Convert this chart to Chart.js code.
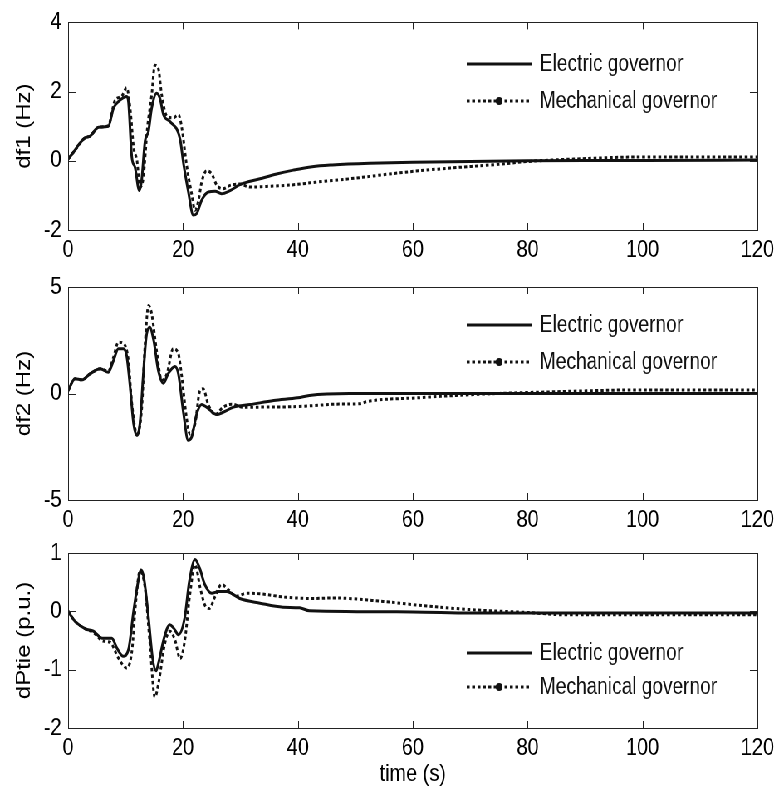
<!DOCTYPE html>
<html><head><meta charset="utf-8">
<script src="https://cdn.jsdelivr.net/npm/chart.js@4"></script>
<style>
html,body{margin:0;padding:0;background:#fff;overflow:hidden;}
#wrap{position:absolute;left:0;top:0;width:938px;height:795px;transform:scaleX(0.8305);transform-origin:0 0;}
.pane{position:absolute;left:0;width:938px;}
</style></head><body>
<div id="wrap">
<div class="pane" style="top:0;height:268px"><canvas id="c1"></canvas></div>
<div class="pane" style="top:255px;height:283px"><canvas id="c2"></canvas></div>
<div class="pane" style="top:525px;height:270px"><canvas id="c3"></canvas></div>
</div>
<script>
// ---- data (time in s) ----
const seriesNames = ['Electric governor', 'Mechanical governor'];
const xTicks = [0, 20, 40, 60, 80, 100, 120];

const t1E  = [0,0.9,2,3,3.8,5.3,7,7.9,8.75,10.2,10.5,11.1,11.65,12.4,12.8,13.4,14,14.55,15.4,16,16.6,17.7,19.5,20.1,20.9,21.8,22.4,23.25,24.4,25.6,26.7,28.2,29.9,33.4,36.3,39.2,42.5,46,52.5,60,70,80,90,100,120];
const df1E = [0.05,0.24,0.5,0.67,0.71,0.97,1.0,1.52,1.71,1.86,1.71,0.1,-0.19,-0.86,-0.57,0.57,0.86,1.52,1.95,1.8,1.33,1.14,0.62,-0.09,-0.86,-1.57,-1.52,-1.14,-0.9,-0.88,-0.95,-0.86,-0.69,-0.52,-0.38,-0.27,-0.17,-0.12,-0.07,-0.04,-0.02,0,0.01,0.01,0.02];
const t1M  = [0,0.9,3,3.8,5.3,7,8.2,9.3,10.2,10.8,11.4,12,12.5,13.1,13.8,14.55,15.1,15.7,16.3,17.2,18.3,19.2,19.8,20.6,21.5,22.1,22.7,23.25,24.1,25,25.9,27,28.2,29.9,31.7,34.6,38,40,44,49,56,61,68,75,80,88,100,120];
const df1M = [0.05,0.24,0.67,0.71,0.97,1.02,1.76,1.86,2.11,1.52,0.4,0,-0.76,-0.48,0.95,1.9,2.76,2.67,1.9,1.29,1.24,1.33,0.95,-0.09,-0.95,-1.43,-1.14,-0.62,-0.29,-0.38,-0.71,-0.81,-0.71,-0.67,-0.76,-0.74,-0.71,-0.68,-0.6,-0.52,-0.38,-0.29,-0.19,-0.1,-0.02,0.05,0.11,0.11];

const t2E  = [0,1.2,2.4,3.8,5.6,7,7.9,8.75,9.6,10.2,10.8,11.4,12,12.5,13.1,13.6,14.2,14.9,15.7,16.6,17.4,18.6,19.2,20.1,20.9,21.5,22.4,23.25,24.1,25.9,27,28.8,31.7,35.8,40,42,49,120];
const df2E = [0.14,0.69,0.64,0.92,1.16,1.0,1.55,2.1,2.1,1.78,0.3,-1.42,-1.97,-1.42,0.92,2.64,3.11,2.49,1.08,0.48,0.92,1.27,0.92,-0.95,-2.2,-2.05,-0.95,-0.52,-0.64,-0.99,-0.88,-0.64,-0.52,-0.33,-0.2,-0.09,0,0];
const t2M  = [0,1.2,2.4,3.8,5.6,7,7.9,8.75,9.6,10.5,11.1,12,12.8,13.4,14,14.55,15.4,16.3,17.2,18.3,19.2,19.8,20.6,21.2,22.1,22.96,23.5,24.4,25.6,27,28.5,30.5,33.4,39.2,42.7,46.7,50.8,52,61,67.6,74.6,82,100,120];
const df2M = [0.14,0.69,0.64,0.92,1.16,1.05,1.7,2.41,2.36,1.55,-0.48,-1.9,-0.78,2.33,4.13,3.74,2.02,0.61,0.92,2.1,1.86,0.77,-1.11,-1.9,-1.42,0.14,0.22,-0.52,-0.99,-0.64,-0.5,-0.65,-0.64,-0.62,-0.57,-0.5,-0.48,-0.38,-0.2,-0.09,0,0.06,0.17,0.16];

const t3E  = [0,1.2,3,4.4,5.9,7.6,8.5,9.6,10.5,11.4,12,12.7,13.2,14,14.7,15.3,15.8,16.7,17.7,18.4,19.2,20.3,21.1,22.1,22.9,23.8,25,26.2,27.6,29.9,33.4,37.4,40.3,42,60,70,120];
const dP3E = [0,-0.17,-0.3,-0.34,-0.46,-0.46,-0.63,-0.77,-0.66,0,0.4,0.71,0.57,-0.11,-0.8,-1.02,-0.86,-0.46,-0.23,-0.29,-0.4,-0.11,0.51,0.89,0.74,0.46,0.31,0.34,0.34,0.22,0.14,0.07,0.06,0.01,-0.01,-0.03,-0.03];
const t3M  = [0,1.2,3,4.4,6.1,7.3,8.75,10.2,11.1,11.8,12.5,13.4,14.3,15.1,15.8,16.8,17.7,18.6,19.5,20.3,21.2,22.1,23,23.8,24.6,25.6,26.7,27.9,29.3,31.1,33.4,38,42.7,46.1,54.8,60.6,69.9,80,86.7,120];
const dP3M = [0,-0.17,-0.3,-0.36,-0.51,-0.53,-0.8,-0.97,-0.69,0.17,0.69,0.4,-0.63,-1.47,-1.2,-0.57,-0.34,-0.49,-0.81,-0.51,0.29,0.8,0.4,0.11,0.05,0.26,0.46,0.37,0.26,0.31,0.3,0.24,0.22,0.23,0.17,0.11,0.03,-0.02,-0.06,-0.06];

// ---- rendering ----
const FONT = '"Liberation Sans", Arial, Helvetica, sans-serif';
const INK = '#111';
const pts = (xs, ys) => xs.map((x, i) => ({x, y: ys[i]}));

const boxPlugin = {
  id: 'matBox',
  afterDraw(chart) {
    const {ctx, chartArea: a, scales} = chart;
    ctx.save();
    ctx.strokeStyle = '#222';
    ctx.lineWidth = 1;
    ctx.setLineDash([]);
    ctx.strokeRect(Math.round(a.left) + 0.5, Math.round(a.top) + 0.5, Math.round(a.right - a.left), Math.round(a.bottom - a.top));
    ctx.beginPath();
    scales.x.ticks.forEach(t => {
      const px = Math.round(scales.x.getPixelForValue(t.value)) + 0.5;
      ctx.moveTo(px, a.bottom); ctx.lineTo(px, a.bottom - 7);
      ctx.moveTo(px, a.top); ctx.lineTo(px, a.top + 7);
    });
    scales.y.ticks.forEach(t => {
      const py = Math.round(scales.y.getPixelForValue(t.value)) + 0.5;
      ctx.moveTo(a.left, py); ctx.lineTo(a.left + 9, py);
      ctx.moveTo(a.right, py); ctx.lineTo(a.right - 9, py);
    });
    ctx.stroke();
    ctx.restore();
  }
};

const legendPlugin = {
  id: 'govLegend',
  afterDatasetsDraw(chart, args, opts) {
    const ctx = chart.ctx;
    ctx.save();
    chart.data.datasets.forEach((ds, i) => {
      const y = opts.rows[i];
      ctx.beginPath();
      ctx.setLineDash(ds.borderDash || []);
      ctx.lineWidth = 3;
      ctx.strokeStyle = ds.borderColor;
      ctx.moveTo(opts.x0, y); ctx.lineTo(opts.x1, y);
      ctx.stroke();
      ctx.setLineDash([]);
      if (ds.borderDash) {
        ctx.beginPath();
        ctx.fillStyle = ds.borderColor;
        ctx.arc((opts.x0 + opts.x1) / 2, y, 4, 0, Math.PI * 2);
        ctx.fill();
      }
      ctx.fillStyle = '#111';
      ctx.font = '23px ' + FONT;
      ctx.textBaseline = 'middle';
      ctx.textAlign = 'left';
      ctx.fillText(ds.label, opts.tx, y + 1);
    });
    ctx.restore();
  }
};

function makeChart(id, c) {
  return new Chart(document.getElementById(id), {
    type: 'line',
    data: {datasets: [
      {label: seriesNames[0], data: pts(c.tE, c.yE), borderColor: INK, borderWidth: 3, pointRadius: 0, cubicInterpolationMode: 'monotone', fill: false},
      {label: seriesNames[1], data: pts(c.tM, c.yM), borderColor: INK, borderWidth: 3, borderDash: [3.5, 3], pointRadius: 0, cubicInterpolationMode: 'monotone', fill: false}
    ]},
    options: {
      responsive: true, maintainAspectRatio: false, animation: false, devicePixelRatio: 1,
      parsing: false, normalized: true,
      layout: {padding: {top: c.padTop, right: 24, left: 0, bottom: 0}},
      plugins: {legend: {display: false}, tooltip: {enabled: false},
        govLegend: {rows: c.legendRows, x0: 562, x1: 640, tx: 650}},
      scales: {
        x: {type: 'linear', min: 0, max: 120,
          afterBuildTicks: s => { s.ticks = xTicks.map(v => ({value: v})); },
          ticks: {color: '#000', font: {family: FONT, size: 24}, padding: 6, maxRotation: 0, autoSkip: false},
          grid: {display: false, drawTicks: false}, border: {display: false},
          title: {display: !!c.xTitle, text: c.xTitle || '', color: '#000', font: {family: FONT, size: 24}, padding: {top: 0, bottom: 6}},
          afterFit: s => { s.height = c.xh; }},
        y: {type: 'linear', min: c.yTicks[0], max: c.yTicks[c.yTicks.length - 1],
          afterBuildTicks: s => { s.ticks = c.yTicks.map(v => ({value: v})); },
          ticks: {color: '#000', font: {family: FONT, size: 24}, padding: 8},
          grid: {display: false, drawTicks: false}, border: {display: false},
          title: {display: true, text: c.yTitle, color: '#000', font: {family: FONT, size: 24}, padding: {top: 15, bottom: 0}},
          afterFit: s => { s.width = 82; }}
      }
    },
    plugins: [boxPlugin, legendPlugin]
  });
}

makeChart('c1', {tE: t1E, yE: df1E, tM: t1M, yM: df1M, yTicks: [-2, 0, 2, 4], yTitle: 'df1 (Hz)', padTop: 20, xh: 38, legendRows: [64, 101]});
makeChart('c2', {tE: t2E, yE: df2E, tM: t2M, yM: df2M, yTicks: [-5, 0, 5], yTitle: 'df2 (Hz)', padTop: 32, xh: 38, legendRows: [70, 107]});
makeChart('c3', {tE: t3E, yE: dP3E, tM: t3M, yM: dP3M, yTicks: [-2, -1, 0, 1], yTitle: 'dPtie (p.u.)', padTop: 28, xh: 67, xTitle: 'time (s)', legendRows: [128, 162]});
</script>
</body></html>
